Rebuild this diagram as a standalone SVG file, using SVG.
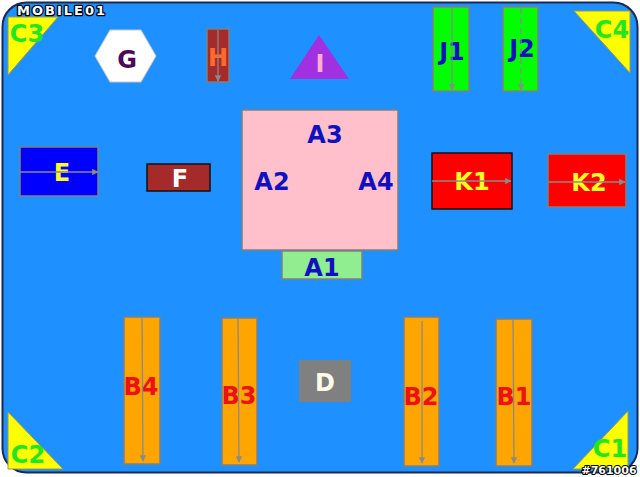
<svg xmlns="http://www.w3.org/2000/svg" width="640" height="477" viewBox="0 0 640 477">
<defs>
<marker id="ah" viewBox="0 0 10 10" refX="9" refY="5" markerWidth="5" markerHeight="5" orient="auto"><path d="M0,0 L10,5 L0,10 z" fill="#8a8a8a"/></marker>
<style>
text{font-family:"DejaVu Sans",Verdana,sans-serif;font-weight:bold;font-size:24px;text-anchor:middle}
.box{stroke:#808080;stroke-width:1.5}
.blk{stroke:#111;stroke-width:1.5}
.tri{fill:#ffff00;stroke:#9a9a50;stroke-width:1}
.ct{fill:#22e622;font-size:24px}
.blue{fill:#1010c0}
.red{fill:#ee1111}
.conn{stroke:#8a8a8a;stroke-width:1.3;fill:none;marker-end:url(#ah)}
.wm{font-family:"DejaVu Sans",sans-serif;fill:#ffffff;stroke:#000000;paint-order:stroke;stroke-linejoin:round}
</style>
</defs>
<rect x="0" y="0" width="640" height="477" fill="#ffffff"/>
<rect id="background" x="2.5" y="2.5" width="635" height="470" rx="24" fill="#1e90ff" stroke="#1a2a55" stroke-width="2"/>
<g id="C3"><polygon class="tri" points="8,17 58,17 8,75"/><text class="ct" x="27" y="42">C3</text></g>
<g id="C4"><polygon class="tri" points="574,11 630,11 630,73"/><text class="ct" x="612" y="38">C4</text></g>
<g id="C2"><polygon class="tri" points="8,412 8,469 63,469"/><text class="ct" x="28" y="463">C2</text></g>
<g id="C1"><polygon class="tri" points="628,411 628,469 573,469"/><text class="ct" x="610" y="457">C1</text></g>
<g id="G"><polygon points="95,56 110,30 141,30 156,56 141,82 110,82" fill="#ffffff" stroke="#c8c8c8" stroke-width="1"/><text x="127" y="68" fill="#4a0a55">G</text></g>
<g id="H"><rect class="box" x="207" y="29" width="22" height="53" fill="#a52a2a"/><text x="218" y="66" fill="#ff6a2a">H</text></g>
<g id="I"><polygon points="319,35 349,79 290,79" fill="#a030e0"/><text x="320" y="72" fill="#ffb0d0" font-size="22">I</text></g>
<g id="J1"><rect class="box" x="433" y="7" width="36" height="84" fill="#00ff00"/><text class="blue" x="452" y="60">J1</text></g>
<g id="J2"><rect class="box" x="503" y="7" width="35" height="84" fill="#00ff00"/><text class="blue" x="522" y="57">J2</text></g>
<g id="A"><rect class="box" x="242" y="110" width="156" height="140" fill="#ffc0cb"/>
<text class="blue" x="325" y="143">A3</text><text class="blue" x="272" y="190">A2</text><text class="blue" x="376" y="190">A4</text></g>
<g id="A1"><rect class="box" x="282" y="251" width="80" height="28" fill="#90ee90"/><text class="blue" x="322" y="276">A1</text></g>
<g id="E"><rect class="box" x="20" y="147" width="78" height="49" fill="#0000ff"/><text x="62" y="181" fill="#ffff22">E</text></g>
<g id="F"><rect class="blk" x="147" y="164" width="63" height="27" fill="#a52a2a"/><text x="180" y="187" fill="#ffffff">F</text></g>
<g id="K1"><rect class="blk" x="432" y="153" width="80" height="56" fill="#ff0000"/><text x="472" y="190" fill="#ffff22">K1</text></g>
<g id="K2"><rect class="box" x="548" y="154" width="78" height="53" fill="#ff0000"/><text x="589" y="191" fill="#ffff22">K2</text></g>
<g id="B4"><rect class="box" x="124" y="317" width="36" height="147" fill="#ffa500"/><text class="red" x="141" y="395">B4</text></g>
<g id="B3"><rect class="box" x="222" y="318" width="35" height="147" fill="#ffa500"/><text class="red" x="239" y="404">B3</text></g>
<g id="D"><rect x="299" y="360" width="52" height="42" fill="#808080"/><text x="325" y="391" fill="#fffbe8">D</text></g>
<g id="B2"><rect class="box" x="404" y="317" width="35" height="149" fill="#ffa500"/><text class="red" x="421" y="405">B2</text></g>
<g id="B1"><rect class="box" x="496" y="319" width="36" height="147" fill="#ffa500"/><text class="red" x="514" y="405">B1</text></g>
<g id="connectors">
<line class="conn" x1="218" y1="30" x2="218" y2="81"/>
<line class="conn" x1="452" y1="8" x2="452" y2="90"/>
<line class="conn" x1="521" y1="8" x2="521" y2="90" stroke-dasharray="6,4"/>
<line class="conn" x1="20" y1="172" x2="98" y2="172"/>
<line class="conn" x1="432" y1="181" x2="511" y2="181"/>
<line class="conn" x1="548" y1="182" x2="625" y2="182"/>
<line class="conn" x1="142" y1="318" x2="143" y2="461"/>
<line class="conn" x1="238" y1="319" x2="239" y2="462"/>
<line class="conn" x1="422" y1="321" x2="422" y2="463"/>
<line class="conn" x1="513" y1="320" x2="514" y2="463"/>
</g>
<text class="wm" x="62" y="15" style="font-size:13px;stroke-width:2.5px;letter-spacing:2px">MOBILE01</text>
<text class="wm" x="609" y="474" style="font-size:11px;font-weight:bold;stroke-width:2px">#761006</text>
</svg>
